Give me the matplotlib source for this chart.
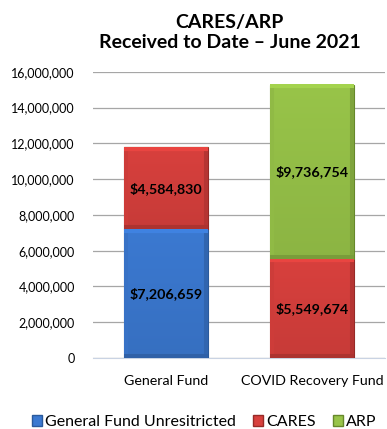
import numpy as np
import matplotlib.pyplot as plt
import matplotlib.colors as mcolors
from matplotlib.patches import Patch

# Data
categories = ["General Fund", "COVID Recovery Fund"]
unrestricted = [7206659, 0]
cares = [4584830, 5549674]
arp = [0, 9736754]
yticks = np.arange(0, 16000001, 2000000)

plt.rcParams['font.family'] = ['Lato', 'DejaVu Sans']

fig = plt.figure(figsize=(3.87, 4.29), dpi=100)
ax = fig.add_axes([0.240, 0.1655, 0.755, 0.667])

x = np.arange(len(categories))
w = 0.57

colors = {"blue": "#3b79d1", "red": "#d8403d", "green": "#98c449"}
edges = {"blue": "#2a5a9c", "red": "#962a27", "green": "#66882b"}

ax.set_xlim(-0.5, 1.5)
ax.set_ylim(0, 16000000)

b1 = ax.bar(x, unrestricted, w, color=colors["blue"], edgecolor=edges["blue"], linewidth=0.8, zorder=3)
b2 = ax.bar(x, cares, w, bottom=unrestricted, color=colors["red"], edgecolor=edges["red"], linewidth=0.8, zorder=3)
bottom3 = np.array(unrestricted) + np.array(cares)
b3 = ax.bar(x, arp, w, bottom=bottom3, color=colors["green"], edgecolor=edges["green"], linewidth=0.8, zorder=3)


# bevel shading drawn inside each bar
def bevel(rect, base):
    if rect.get_height() <= 0:
        return
    x0, y0 = rect.get_x(), rect.get_y()
    x1, y1 = x0 + rect.get_width(), y0 + rect.get_height()
    (px0, py0), (px1, py1) = ax.transData.transform([(x0, y0), (x1, y1)])
    wp, hp = max(int(px1 - px0), 2), max(int(py1 - py0), 2)
    rgb = np.array(mcolors.to_rgb(base))
    img = np.ones((hp, wp, 3)) * rgb
    b = 4
    jj, ii = np.meshgrid(np.arange(wp), np.arange(hp))
    fac = 1.0 - 0.08 * (ii / hp)
    fac = np.where(jj < b, 0.95, fac)
    fac = np.where(jj >= wp - b, 0.84, fac)
    fac = np.where(ii >= hp - b, 0.80, fac)
    fac = np.where(ii < b, 1.08, fac)
    out = np.clip(img * fac[..., None], 0, 1)
    ax.imshow(out, extent=(x0, x1, y0, y1), aspect="auto", zorder=3.5,
              interpolation="bilinear", clip_path=rect, clip_on=True)


for bars, key in [(b1, "blue"), (b2, "red"), (b3, "green")]:
    for rect in bars:
        bevel(rect, colors[key])

# Data labels
for bars, vals, bots in [(b1, unrestricted, [0, 0]), (b2, cares, unrestricted), (b3, arp, bottom3)]:
    for rect, v, b in zip(bars, vals, bots):
        if v > 0:
            ax.text(rect.get_x() + rect.get_width() / 2, b + v / 2, f"${v:,.0f}",
                    ha="center", va="center", fontsize=10.3, fontweight="bold", color="black", zorder=5)

ax.set_xlim(-0.5, 1.5)
ax.set_ylim(0, 16000000)
ax.set_yticks(yticks)
ax.set_yticklabels([f"{int(t):,}" for t in yticks], fontsize=9)
ax.set_xticks(x)
ax.set_xticklabels(categories, fontsize=10.3)
ax.tick_params(axis="y", length=0, pad=13)
ax.tick_params(axis="x", length=0, pad=12)
ax.grid(axis="y", color="#a6a6a6", linewidth=0.9, zorder=0)
for s in ["top", "right", "left"]:
    ax.spines[s].set_visible(False)
ax.spines["bottom"].set_color("#c9d3e3")

fig.text(0.594, 0.968, "CARES/ARP\nReceived to Date \u2013 June 2021", ha="center", va="top",
         fontsize=14, fontweight="bold", linespacing=1.25)

handles = [Patch(facecolor=colors["blue"], edgecolor=edges["blue"]),
           Patch(facecolor=colors["red"], edgecolor=edges["red"]),
           Patch(facecolor=colors["green"], edgecolor=edges["green"])]
fig.legend(handles, ["General Fund Unresitricted", "CARES", "ARP"], loc="center",
           bbox_to_anchor=(0.528, 0.016), ncol=3, frameon=False, fontsize=11.5,
           handlelength=0.6, handleheight=0.6, handletextpad=0.2, columnspacing=1.1,
           borderaxespad=0, borderpad=0)

fig.savefig("out.png", dpi=100)
